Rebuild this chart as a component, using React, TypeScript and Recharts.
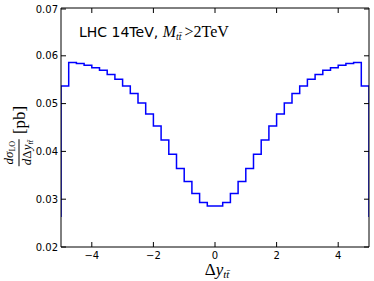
import React from "react";
import { Line, LineChart, XAxis, YAxis } from "recharts";

// left edges of the 0.25-wide bins, plus the closing edge at 5
const binEdges = [
  -5, -4.75, -4.5, -4.25, -4, -3.75, -3.5, -3.25, -3, -2.75, -2.5, -2.25, -2, -1.75, -1.5, -1.25, -1, -0.75,
  -0.5, -0.25, 0, 0.25, 0.5, 0.75, 1, 1.25, 1.5, 1.75, 2, 2.25, 2.5, 2.75, 3, 3.25, 3.5, 3.75, 4, 4.25, 4.5,
  4.75, 5,
];

// dsigma_LO / dDeltay [pb] per bin
const sigmaLO = [
  0.0537, 0.0586, 0.0584, 0.058, 0.0575, 0.057, 0.0561, 0.0551, 0.0537, 0.0521, 0.0501, 0.0478, 0.0453,
  0.0424, 0.0394, 0.0364, 0.0337, 0.0312, 0.0293, 0.0286, 0.0286, 0.0293, 0.0312, 0.0337, 0.0364, 0.0394,
  0.0424, 0.0453, 0.0478, 0.0501, 0.0521, 0.0537, 0.0551, 0.0561, 0.057, 0.0575, 0.058, 0.0584, 0.0586,
  0.0537,
];

const edgeFloor = 0.0263;

const xTicks = [-4, -2, 0, 2, 4];
const yTicks = [0.02, 0.03, 0.04, 0.05, 0.06, 0.07];

const data = [
  { x: binEdges[0], y: edgeFloor },
  ...sigmaLO.map((v, i) => ({ x: binEdges[i], y: v })),
  { x: binEdges[binEdges.length - 1], y: sigmaLO[sigmaLO.length - 1] },
  { x: binEdges[binEdges.length - 1], y: edgeFloor },
];

const tickFont = "DejaVu Sans, sans-serif";
const mathFont = "Liberation Serif, serif";
const fmtX = (v: number) => (v < 0 ? "\u2212" + Math.abs(v) : String(v));

const BottomTick = (props: any) => {
  const { x, y, payload } = props;
  return (
    <g>
      <line x1={x} y1={y} x2={x} y2={y - 5} stroke="#000" strokeWidth={1} />
      <text x={x} y={y + 11.5} textAnchor="middle" fontSize={10} fontFamily={tickFont} fill="#000">
        {fmtX(payload.value)}
      </text>
    </g>
  );
};

const TopTick = (props: any) => {
  const { x, y } = props;
  return <line x1={x} y1={y} x2={x} y2={y + 5} stroke="#000" strokeWidth={1} />;
};

const LeftTick = (props: any) => {
  const { x, y, payload } = props;
  return (
    <g>
      <line x1={x} y1={y} x2={x + 5} y2={y} stroke="#000" strokeWidth={1} />
      <text x={x - 3} y={y} dy="0.35em" textAnchor="end" fontSize={10} fontFamily={tickFont} fill="#000">
        {payload.value.toFixed(2)}
      </text>
    </g>
  );
};

const RightTick = (props: any) => {
  const { x, y } = props;
  return <line x1={x} y1={y} x2={x - 5} y2={y} stroke="#000" strokeWidth={1} />;
};

const tt = <span style={{ fontStyle: "italic" }}>{"tt\u0304"}</span>;

export default function App() {
  return (
    <div style={{ position: "absolute", left: 0, top: 0, width: 374, height: 281, background: "#fff" }}>
      <LineChart width={374} height={281} data={data} margin={{ top: 0, right: 0, bottom: 0, left: 0 }}>
        <XAxis
          xAxisId="b"
          dataKey="x"
          type="number"
          domain={[-5, 5]}
          ticks={xTicks}
          allowDataOverflow
          height={34}
          tickSize={0}
          tickMargin={0}
          tickLine={false}
          axisLine={{ stroke: "#000", strokeWidth: 1 }}
          tick={<BottomTick />}
        />
        <XAxis
          xAxisId="t"
          orientation="top"
          dataKey="x"
          type="number"
          domain={[-5, 5]}
          ticks={xTicks}
          allowDataOverflow
          height={8}
          tickSize={0}
          tickMargin={0}
          tickLine={false}
          axisLine={{ stroke: "#000", strokeWidth: 1 }}
          tick={<TopTick />}
        />
        <YAxis
          yAxisId="l"
          type="number"
          domain={[0.02, 0.07]}
          ticks={yTicks}
          allowDataOverflow
          width={61}
          tickSize={0}
          tickMargin={0}
          tickLine={false}
          axisLine={{ stroke: "#000", strokeWidth: 1 }}
          tick={<LeftTick />}
        />
        <YAxis
          yAxisId="r"
          orientation="right"
          type="number"
          domain={[0.02, 0.07]}
          ticks={yTicks}
          allowDataOverflow
          width={5}
          tickSize={0}
          tickMargin={0}
          tickLine={false}
          axisLine={{ stroke: "#000", strokeWidth: 1 }}
          tick={<RightTick />}
        />
        <Line
          xAxisId="b"
          yAxisId="l"
          dataKey="y"
          type="stepAfter"
          stroke="#0000ff"
          strokeWidth={1.5}
          dot={false}
          activeDot={false}
          isAnimationActive={false}
        />
      </LineChart>

      {/* annotation */}
      <div
        style={{
          position: "absolute",
          left: 79,
          top: 24,
          whiteSpace: "nowrap",
          fontFamily: tickFont,
          fontSize: 14,
          color: "#000",
          lineHeight: "16px",
        }}
      >
        LHC 14TeV,{" "}
        <span style={{ fontFamily: mathFont, fontSize: 16 }}>
          <span style={{ fontStyle: "italic" }}>M</span>
          <sub style={{ fontSize: 10, verticalAlign: "-3px" }}>{tt}</sub>
          <span style={{ marginLeft: 3 }}>{">2TeV"}</span>
        </span>
      </div>

      {/* x label */}
      <div
        style={{
          position: "absolute",
          left: 217,
          top: 270,
          transform: "translate(-50%, -50%)",
          whiteSpace: "nowrap",
          fontFamily: mathFont,
          fontSize: 17,
          color: "#000",
        }}
      >
        Δ<span style={{ fontStyle: "italic" }}>y</span>
        <sub style={{ fontSize: 11, verticalAlign: "-3px" }}>{tt}</sub>
      </div>

      {/* y label */}
      <div
        style={{
          position: "absolute",
          left: 19,
          top: 136,
          transform: "translate(-50%, -50%) rotate(-90deg)",
          whiteSpace: "nowrap",
          fontFamily: mathFont,
          color: "#000",
          display: "flex",
          alignItems: "center",
        }}
      >
        <span
          style={{
            display: "inline-flex",
            flexDirection: "column",
            alignItems: "center",
            fontSize: 13,
            lineHeight: "11px",
          }}
        >
          <span style={{ paddingBottom: 1 }}>
            <span style={{ fontStyle: "italic" }}>dσ</span>
            <sub style={{ fontSize: 8, verticalAlign: "-2px" }}>LO</sub>
          </span>
          <span style={{ borderTop: "1px solid #000", padding: "1px 1px 0" }}>
            <span style={{ fontStyle: "italic" }}>d</span>Δ<span style={{ fontStyle: "italic" }}>y</span>
            <sub style={{ fontSize: 8, verticalAlign: "-2px" }}>{tt}</sub>
          </span>
        </span>
        <span style={{ fontSize: 17, marginLeft: 5 }}>[pb]</span>
      </div>
    </div>
  );
}
